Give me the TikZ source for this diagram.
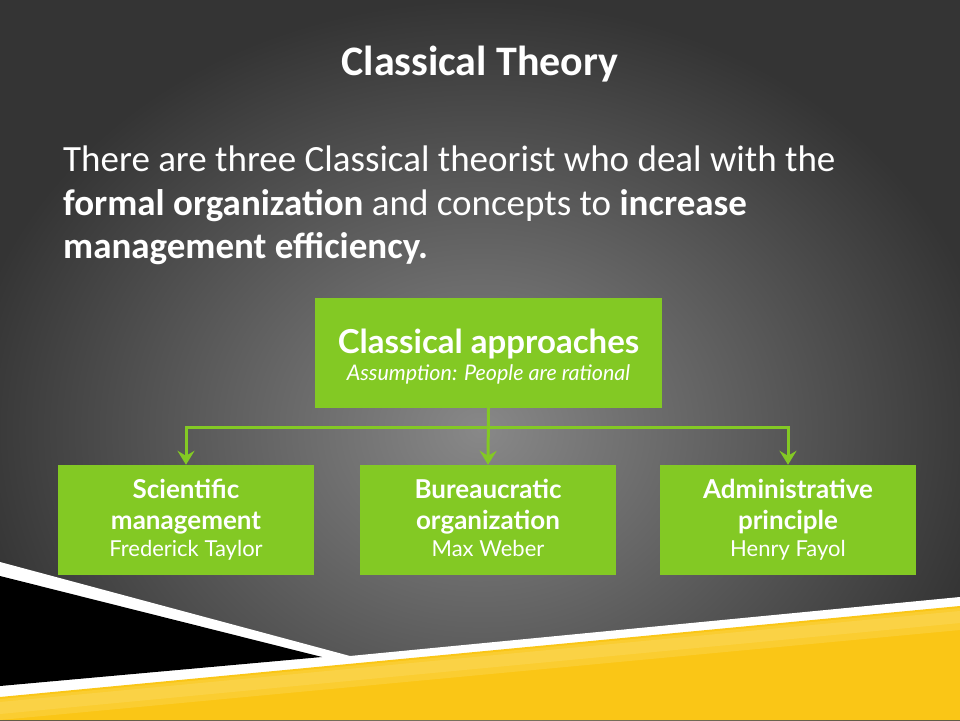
\documentclass[tikz,border=0pt]{standalone}
\usepackage{fontspec}
\setmainfont{Carlito}
\newfontfamily\boxfont{Lato}
\usetikzlibrary{arrows.meta}

\definecolor{leafgreen}{RGB}{131,201,36}
\definecolor{slidegray}{RGB}{136,136,136}
\definecolor{slidedark}{RGB}{52,52,52}
\definecolor{bandyellow}{RGB}{250,198,22}
\definecolor{bandlight}{RGB}{253,228,130}

\def\boxw{256}
\def\boxh{110}
\def\headfont{\fontsize{26}{31}\selectfont\bfseries}
\def\namefont{\fontsize{22}{31}\selectfont\mdseries}

\tikzset{
  greenbox/.style={fill=leafgreen, text=white, align=center, inner sep=0pt,
    minimum width=\boxw pt, minimum height=\boxh pt, font=\boxfont\fontsize{26}{31}\selectfont},
  conn/.style={leafgreen, line width=3pt, -{Stealth[length=14pt,width=17pt,inset=5pt]}}
}

\begin{document}
\begin{tikzpicture}[x=1pt, y=1pt]
      \useasboundingbox (0,0) rectangle (960,720);
      \begin{scope}
        \clip (0,0) rectangle (960,720);
        \shade[inner color=slidegray, outer color=slidedark] (-40,-140) rectangle (1000,720);
      \end{scope}
      \fill[white] (0,158) -- (350,64) -- (960,123) -- (960,0) -- (0,0) -- cycle;
      \fill[black] (0,144) -- (322,63) -- (0,34) -- cycle;
      \fill[bandyellow] (0,23) -- (960,114) -- (960,0) -- (0,0) -- cycle;
      \fill[bandlight, opacity=0.25] (0,21) -- (960,112) -- (960,90) -- (0,0) -- cycle;
      \fill[bandlight, opacity=0.25] (0,18) -- (960,109) -- (960,97) -- (0,6) -- cycle;

      \node[anchor=base, text=white, font=\fontsize{42}{46}\selectfont\bfseries] (title) at (480,644) {Classical Theory};
      \node[anchor=base west, text=white, align=left, inner sep=0pt,
            font=\fontsize{37}{43.5}\selectfont] (intro) at (63,461)
            {There are three Classical theorist who deal with the\\
             \textbf{formal organization} and concepts to \textbf{increase}\\
             \textbf{management efficiency.}};

      \node[greenbox, minimum width=347pt, font=\boxfont\fontsize{33}{27}\selectfont] (top) at (488.5,367)
            {\fontsize{33}{27}\selectfont\bfseries\rule{0pt}{31pt}Classical approaches\\
             \fontsize{21.5}{27}\selectfont\mdseries\itshape Assumption: People are rational};
      \node[greenbox] (left) at (186,200)
            {\headfont Scientific\\ \headfont management\\[-4pt] \namefont Frederick Taylor};
      \node[greenbox] (mid) at (488,200)
            {\headfont Bureaucratic\\ \headfont organization\\[-4pt] \namefont Max Weber\vphantom{y}};
      \node[greenbox] (right) at (788,200)
            {\headfont Administrative\\ \headfont principle\\[-4pt] \namefont Henry Fayol};

      \draw[conn] (top.south) -- (mid.north);
      \draw[conn] (top.south) -- ++(0,-19) -| (left.north);
      \draw[conn] (top.south) -- ++(0,-19) -| (right.north);
\end{tikzpicture}
\end{document}
